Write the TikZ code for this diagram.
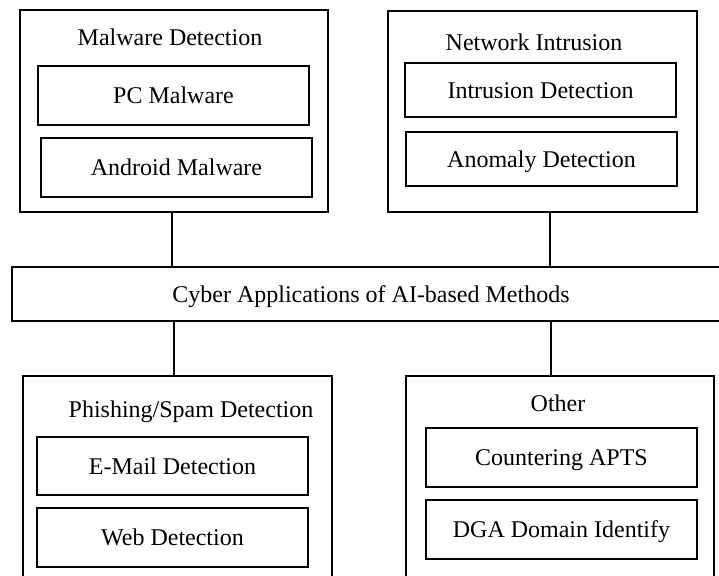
\documentclass[tikz,border=0pt]{standalone}
\usepackage{fontspec}
\setmainfont{Liberation Serif}
\begin{document}
\begin{tikzpicture}[x=0.5pt,y=-0.5pt,
  font=\fontsize{12pt}{14pt}\selectfont,
  every node/.style={text height=8.5pt,text depth=0.3pt},
  group/.style={draw,line width=1.3pt,inner sep=0pt,minimum width=154pt,minimum height=101pt},
  item/.style={draw,line width=1.4pt,inner sep=0pt,minimum width=135.5pt,minimum height=29.5pt},
  title/.style={inner sep=0pt},
  link/.style={line width=0.6pt}]
\useasboundingbox (0,0) rectangle (719,575);
\fill[white] (0,0) rectangle (719,575);

% top row groups
\node[group] (mw) at (174,111) {};
\node[title] (mwt) at (170,37) {Malware Detection};
\node[item] (pc) at (173.5,95.5) {PC Malware};
\node[item] (and) at (176.5,167.5) {Android Malware};

\node[group,minimum width=154.5pt,minimum height=100.5pt] (ni) at (542.5,111.5) {};
\node[title] (nit) at (534,42) {Network Intrusion};
\node[item,minimum height=27pt] (ids) at (540.5,90) {Intrusion Detection};
\node[item,minimum height=27pt] (ano) at (541.5,159) {Anomaly Detection};

% central bar
\node[draw,line width=1.3pt,inner sep=0pt,minimum width=359pt,minimum height=27pt] (cyber) at (371,294) {Cyber Applications of AI-based Methods};

% bottom row groups
\node[group,minimum width=154.5pt,minimum height=112pt] (ps) at (177.5,488) {};
\node[title] (pst) at (191,409) {Phishing/Spam Detection};
\node[item,minimum height=29pt] (em) at (172.5,466) {E-Mail Detection};
\node[item] (web) at (172.5,537.5) {Web Detection};

\node[group,minimum height=112pt] (oth) at (560,488) {};
\node[title] (otht) at (558,403) {Other};
\node[item] (apt) at (561.5,457.5) {Countering APTS};
\node[item] (dga) at (561.5,529.5) {DGA Domain Identify};

% connectors
\draw[link] ([xshift=-1pt]mw.south) -- ([xshift=-1pt]mw.south |- cyber.north);
\draw[link] ([xshift=3.75pt]ni.south) -- ([xshift=3.75pt]ni.south |- cyber.north);
\draw[link] ([xshift=-1.75pt]ps.north |- cyber.south) -- ([xshift=-1.75pt]ps.north);
\draw[link] ([xshift=-4.5pt]oth.north |- cyber.south) -- ([xshift=-4.5pt]oth.north);
\end{tikzpicture}
\end{document}
